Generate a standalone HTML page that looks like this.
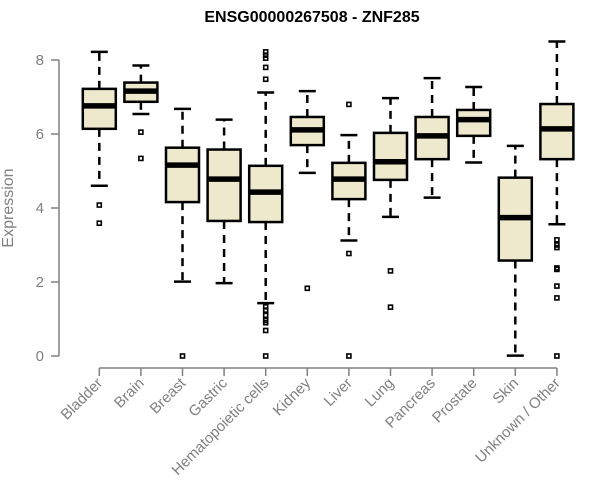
<!DOCTYPE html>
<html><head><meta charset="utf-8"><style>
body{margin:0;background:#fff}
svg{display:block;font-family:"Liberation Sans",Arial,sans-serif}
</style></head><body>
<svg id="chart" width="600" height="500" viewBox="0 0 600 500">
<text x="312" y="22" text-anchor="middle" font-weight="bold" font-size="16" fill="#000">ENSG00000267508 - ZNF285</text>
<text transform="translate(13,208) rotate(-90)" text-anchor="middle" font-size="16" fill="#808080">Expression</text>
<g id="axes"></g><g id="plot"></g>
</svg>
<script>
const categories=["Bladder","Brain","Breast","Gastric","Hematopoietic cells","Kidney","Liver","Lung","Pancreas","Prostate","Skin","Unknown / Other"];
const whiskerLow=[4.60,6.54,2.01,1.97,1.43,4.95,3.12,3.76,4.28,5.23,0.01,3.56];
const q1=[6.14,6.87,4.16,3.65,3.62,5.70,4.24,4.76,5.32,5.95,2.58,5.32];
const medians=[6.76,7.16,5.16,4.78,4.43,6.11,4.78,5.25,5.95,6.39,3.74,6.14];
const q3=[7.22,7.39,5.63,5.58,5.14,6.46,5.22,6.03,6.46,6.65,4.82,6.81];
const whiskerHigh=[8.22,7.85,6.68,6.39,7.12,7.16,5.97,6.97,7.51,7.27,5.68,8.50];
const outliers=[[4.08,3.59],[6.05,5.34],[0],[],[8.22,8.13,8.05,7.80,7.48,1.33,1.24,1.10,0.96,0.90,0.69,0],[1.83],[6.80,2.77,0],[2.30,1.32],[],[],[],[3.14,3.00,2.93,2.38,2.34,1.89,1.57,0]];
const yTicks=[0,2,4,6,8];
const NS="http://www.w3.org/2000/svg";
const yScale=v=>356-v*37;
const xScale=i=>99.3+i*41.6;
function mk(tag,attrs,parent){const e=document.createElementNS(NS,tag);for(const k in attrs)e.setAttribute(k,attrs[k]);parent.appendChild(e);return e;}
const axes=document.getElementById('axes'),plot=document.getElementById('plot');
let ya=mk('line',{x1:59,x2:59,y1:yScale(0),y2:yScale(8),stroke:'#808080','stroke-width':1.5},axes);


yTicks.forEach(t=>{
 let l=mk('line',{x1:51,x2:59,y1:yScale(t),y2:yScale(t),stroke:'#808080','stroke-width':1.5},axes);
 
 
 let tx=mk('text',{x:44,y:yScale(t)+5,'text-anchor':'end','font-size':15,fill:'#808080'},axes);
 tx.textContent=t;
 
 
});
let xa=mk('line',{x1:xScale(0),x2:xScale(categories.length-1),y1:368,y2:368,stroke:'#808080','stroke-width':1.5},axes);


categories.forEach((c,i)=>{
 const x=xScale(i);
 let l=mk('line',{x1:x,x2:x,y1:368,y2:376,stroke:'#808080','stroke-width':1.5},axes);
 
 
 let tx=mk('text',{transform:`translate(${x+4},${384}) rotate(-45)`,'text-anchor':'end','font-size':15,fill:'#808080'},axes);
 tx.textContent=c;
 
 
 const g=mk('g',{},plot);
 
 
 const hw=16.5,cw=8.5;
 mk('line',{x1:x,x2:x,y1:yScale(q3[i]),y2:yScale(whiskerHigh[i]),stroke:'#000','stroke-width':2.5,'stroke-dasharray':'8,6'},g);
 mk('line',{x1:x,x2:x,y1:yScale(q1[i]),y2:yScale(whiskerLow[i]),stroke:'#000','stroke-width':2.5,'stroke-dasharray':'8,6'},g);
 mk('line',{x1:x-cw,x2:x+cw,y1:yScale(whiskerHigh[i]),y2:yScale(whiskerHigh[i]),stroke:'#000','stroke-width':2.5},g);
 mk('line',{x1:x-cw,x2:x+cw,y1:yScale(whiskerLow[i]),y2:yScale(whiskerLow[i]),stroke:'#000','stroke-width':2.5},g);
 mk('rect',{x:x-hw,y:yScale(q3[i]),width:hw*2,height:yScale(q1[i])-yScale(q3[i]),fill:'#eee8cd',stroke:'#000','stroke-width':2.5},g);
 mk('line',{x1:x-hw,x2:x+hw,y1:yScale(medians[i]),y2:yScale(medians[i]),stroke:'#000','stroke-width':5.5},g);
 outliers[i].forEach(v=>{
  mk('rect',{x:x-2,y:yScale(v)-2,width:4,height:4,fill:'none',stroke:'#000','stroke-width':1.6},g);
 });
});
</script>
</body></html>
